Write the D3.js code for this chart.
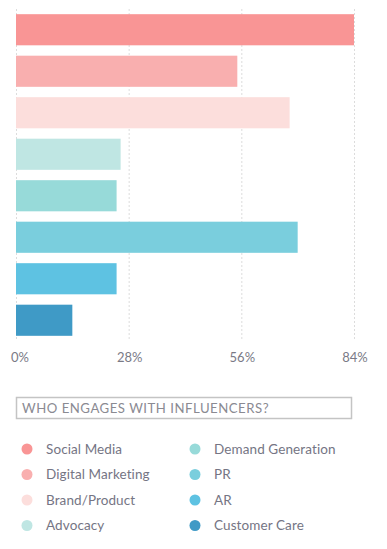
<!DOCTYPE html>
<html>
<head>
<meta charset="utf-8">
<script src="https://cdn.jsdelivr.net/npm/d3@7"></script>
<style>
  body { margin: 0; background: #fff; }
  svg { display: block; font-family: Lato, "Open Sans", sans-serif; }
</style>
</head>
<body>
<svg width="387" height="549"></svg>
<script>
"use strict";

const categories = ["Social Media", "Digital Marketing", "Brand/Product", "Advocacy",
                    "Demand Generation", "PR", "AR", "Customer Care"];
const values = [84, 55, 68, 26, 25, 70, 25, 14];
const colors = ["#F99595", "#F9AFAF", "#FCDEDC", "#BFE6E3", "#97DAD9", "#7ACEDD", "#5EC2E2", "#3F9AC6"];
const ticks = [0, 28, 56, 84];
const legendTitle = "WHO ENGAGES WITH INFLUENCERS?";

const svg = d3.select("svg");
const Plot = {LEFT: 16, RIGHT: 354, TOP: 9, BOTTOM: 341};

const x = d3.scaleLinear().domain([0, 84]).range([Plot.LEFT, Plot.RIGHT]);
const y = d3.scaleBand()
    .domain(categories)
    .range([Plot.TOP, Plot.BOTTOM])
    .paddingInner(0.25)
    .paddingOuter(0.125);

// dashed grid lines
svg.append("g")
    .selectAll("line")
    .data(ticks)
    .join("line")
    .attr("x1", d => x(d) + 0.5)
    .attr("x2", d => x(d) + 0.5)
    .attr("y1", Plot.TOP)
    .attr("y2", Plot.BOTTOM)
    .attr("stroke", "#dcdcdc")
    .attr("stroke-width", 1)
    .attr("stroke-dasharray", "2,2");

// bars
svg.append("g")
    .selectAll("rect")
    .data(categories)
    .join("rect")
    .attr("x", x(0))
    .attr("y", d => y(d))
    .attr("width", (d, i) => x(values[i]) - x(0))
    .attr("height", y.bandwidth())
    .attr("fill", (d, i) => colors[i]);

// tick labels
svg.append("g")
    .selectAll("text")
    .data(ticks)
    .join("text")
    .attr("x", (d, i) => i === 0 ? x(d) + 4 : x(d) + 1)
    .attr("y", 362)
    .attr("text-anchor", "middle")
    .attr("font-size", 13)
    .attr("fill", "#7a7a86")
    .text(d => d + "%");

// legend title box
svg.append("rect")
    .attr("x", 16.5)
    .attr("y", 397.5)
    .attr("width", 335)
    .attr("height", 21)
    .attr("fill", "none")
    .attr("stroke", "#c4c4c4")
    .attr("stroke-width", 1.5);

svg.append("text")
    .attr("x", 22)
    .attr("y", 413)
    .attr("font-size", 13.2)
    .attr("fill", "#8a8a92")
    .attr("letter-spacing", 0.5)
    .text(legendTitle);

// legend items
const legend = svg.append("g")
    .selectAll("g")
    .data(categories)
    .join("g")
    .attr("transform", (d, i) => `translate(${i < 4 ? 27 : 195}, ${449 + (i % 4) * 25.5})`);

legend.append("circle")
    .attr("r", 5.5)
    .attr("fill", (d, i) => colors[i]);

legend.append("text")
    .attr("x", 19)
    .attr("y", 4.5)
    .attr("font-size", 13.5)
    .attr("fill", "#757584")
    .attr("letter-spacing", 0.1)
    .text(d => d);
</script>
</body>
</html>
